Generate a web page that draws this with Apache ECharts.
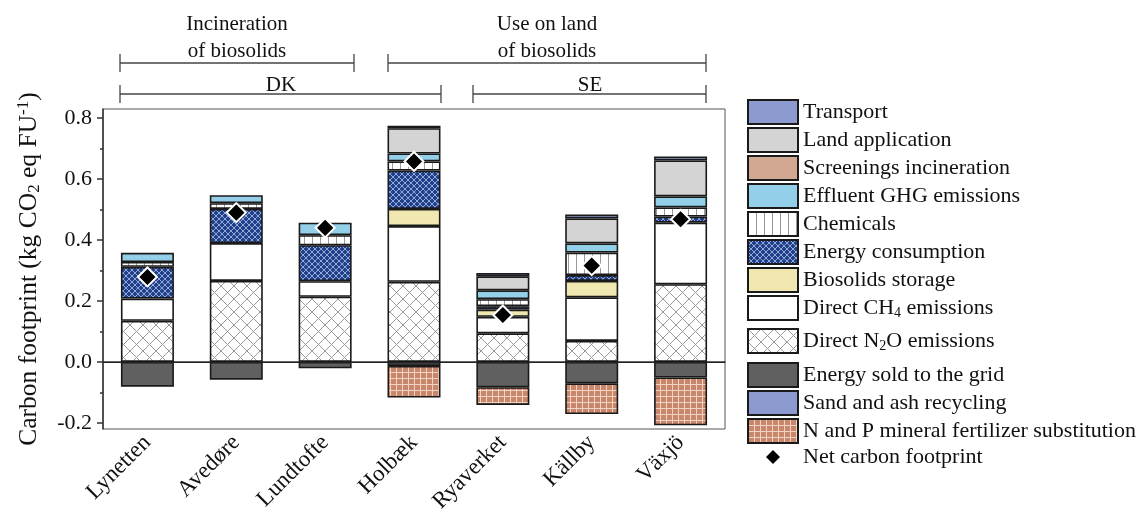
<!DOCTYPE html>
<html>
<head>
<meta charset="utf-8">
<script src="https://cdn.jsdelivr.net/npm/echarts@6/dist/echarts.min.js"></script>
<style>
  html, body { margin: 0; padding: 0; background: #fff; }
  #chart { width: 1148px; height: 527px; }
</style>
</head>
<body>
<div id="chart"></div>
<script>
const plants = ['Lynetten', 'Avedøre', 'Lundtofte', 'Holbæk', 'Ryaverket', 'Källby', 'Växjö']

// positive contributions, bottom of stack first
const directN2O = [0.135, 0.266, 0.214, 0.263, 0.094, 0.069, 0.255]
const directCH4 = [0.073, 0.124, 0.051, 0.183, 0.054, 0.143, 0.202]
const biosolidsStorage = [0, 0, 0, 0.056, 0.024, 0.054, 0]
const energyConsumption = [0.104, 0.112, 0.118, 0.126, 0.011, 0.019, 0.020]
const chemicals = [0.016, 0.019, 0.033, 0.030, 0.023, 0.074, 0.030]
const effluentGHG = [0.030, 0.026, 0.041, 0.026, 0.029, 0.030, 0.036]
const screeningsIncineration = [0, 0, 0, 0, 0, 0, 0]
const landApplication = [0, 0, 0, 0.083, 0.046, 0.082, 0.118]
const transport = [0, 0, 0, 0.008, 0.011, 0.013, 0.013]

// avoided burdens, nearest zero first
const energySold = [-0.081, -0.058, -0.021, -0.013, -0.083, -0.070, -0.051]
const sandAshRecycling = [0, 0, 0, 0, 0, 0, 0]
const fertilizerSubstitution = [0, 0, 0, -0.104, -0.058, -0.101, -0.157]

const netFootprint = [0.279, 0.490, 0.440, 0.658, 0.154, 0.316, 0.468]

const yLabels = [-0.2, 0, 0.2, 0.4, 0.6, 0.8]
const yMinorTicks = [-0.1, 0.1, 0.3, 0.5, 0.7]

const serif = 'Liberation Serif'

function tile(size, bg, fg, draw) {
  const c = document.createElement('canvas')
  c.width = c.height = size
  const g = c.getContext('2d')
  g.fillStyle = bg
  g.fillRect(0, 0, size, size)
  g.strokeStyle = fg
  g.lineWidth = 1
  g.beginPath()
  draw(g, size)
  g.stroke()
  return { image: c, repeat: 'repeat' }
}
const cross = (g, s) => { g.moveTo(0, 0); g.lineTo(s, s); g.moveTo(s, 0); g.lineTo(0, s) }

const fills = {
  n2o: tile(13, '#ffffff', '#9a9a9a', cross),
  energy: tile(6, '#21408a', '#95a8da', cross),
  chem: tile(8, '#ffffff', '#9a9a9a', (g, s) => { g.moveTo(0.5, 0); g.lineTo(0.5, s) }),
  fert: tile(6, '#c8876a', '#f0d3c4', (g, s) => { g.moveTo(0.5, 0); g.lineTo(0.5, s); g.moveTo(0, 0.5); g.lineTo(s, 0.5) }),
}

const nz = arr => arr.map(v => (v === 0 ? '-' : v))

function bar(name, data, color) {
  return {
    name,
    type: 'bar',
    stack: 'total',
    barWidth: 53,
    data: nz(data),
    itemStyle: { color, borderColor: '#1a1a1a', borderWidth: 1.6 },
    emphasis: { disabled: true },
  }
}

const series = [
  bar('Direct N2O emissions', directN2O, fills.n2o),
  bar('Direct CH4 emissions', directCH4, '#ffffff'),
  bar('Biosolids storage', biosolidsStorage, '#f0e8b0'),
  bar('Energy consumption', energyConsumption, fills.energy),
  bar('Chemicals', chemicals, fills.chem),
  bar('Effluent GHG emissions', effluentGHG, '#94cfe9'),
  bar('Screenings incineration', screeningsIncineration, '#d2a893'),
  bar('Land application', landApplication, '#d4d4d4'),
  bar('Transport', transport, '#8c9ad0'),
  bar('Energy sold to the grid', energySold, '#606060'),
  bar('Sand and ash recycling', sandAshRecycling, '#8c9ad0'),
  bar('N and P mineral fertilizer substitution', fertilizerSubstitution, fills.fert),
  {
    name: 'Net carbon footprint',
    type: 'scatter',
    data: netFootprint,
    symbol: 'diamond',
    symbolSize: 19,
    z: 5,
    itemStyle: { color: '#000', borderColor: '#fff', borderWidth: 2, opacity: 1 },
  },
]
series[0].markLine = {
  silent: true,
  symbol: ['none', 'none'],
  label: { show: false },
  lineStyle: { color: '#222', width: 1, type: 'solid' },
  data: [{ yAxis: 0 }],
}

const richText = {
  sub: { fontSize: 14, fontFamily: serif, color: '#111', padding: [11, 0, 0, 0] },
  sup: { fontSize: 14, fontFamily: serif, color: '#111', padding: [0, 0, 10, 0] },
}
function legendName(name) {
  return name.replace('CH4', 'CH{sub|4}').replace('N2O', 'N{sub|2}O')
}
const legendBase = {
  orient: 'vertical',
  left: 747,
  padding: 0,
  icon: 'rect',
  itemWidth: 50,
  itemHeight: 24,
  itemGap: 2,
  selectedMode: false,
  formatter: legendName,
  textStyle: { fontFamily: serif, fontSize: 22, color: '#111', lineHeight: 22, rich: richText },
}

const option = {
  animation: false,
  backgroundColor: '#fff',
  grid: { left: 103, right: 423, top: 109, bottom: 98, show: true, borderColor: '#555', borderWidth: 1 },
  legend: [
    { ...legendBase, top: 99, data: ['Transport', 'Land application', 'Screenings incineration', 'Effluent GHG emissions', 'Chemicals', 'Energy consumption', 'Biosolids storage', 'Direct CH4 emissions'] },
    { ...legendBase, top: 328, data: ['Direct N2O emissions'] },
    { ...legendBase, top: 362, data: ['Energy sold to the grid', 'Sand and ash recycling', 'N and P mineral fertilizer substitution'] },
    { ...legendBase, top: 446, left: 766, itemWidth: 14, itemHeight: 14, icon: 'diamond', itemStyle: { color: '#000', borderWidth: 0 }, textStyle: { ...legendBase.textStyle, padding: [0, 0, 0, 18] }, data: ['Net carbon footprint'] },
  ],
  xAxis: {
    type: 'category',
    data: plants,
    axisLine: { lineStyle: { color: '#333', width: 1.5 } },
    axisTick: { alignWithLabel: true, length: 9, lineStyle: { color: '#333', width: 1.5 } },
    axisLabel: { rotate: 45, margin: 10, fontFamily: serif, fontSize: 23, color: '#111' },
  },
  yAxis: [
    {
      type: 'value',
      min: -0.22,
      max: 0.83,
      name: 'Carbon footprint (kg CO{sub|2} eq FU{sup|-1})',
      nameLocation: 'middle',
      nameGap: 60,
      nameTextStyle: { fontFamily: serif, fontSize: 25.5, color: '#111', rich: { sub: { ...richText.sub, fontSize: 17 }, sup: { ...richText.sup, fontSize: 17 } } },
      splitLine: { show: false },
      axisLine: { show: true, lineStyle: { color: '#333', width: 1.5 } },
      axisTick: { show: true, length: 6, customValues: yLabels, lineStyle: { color: '#333', width: 1.5 } },
      axisLabel: { customValues: yLabels, margin: 11, fontFamily: serif, fontSize: 22, color: '#111', formatter: v => v.toFixed(1) },
    },
    {
      type: 'value',
      min: -0.22,
      max: 0.83,
      position: 'left',
      splitLine: { show: false },
      axisLine: { show: false },
      axisTick: { show: true, length: 3, customValues: yMinorTicks, lineStyle: { color: '#333', width: 1.5 } },
      axisLabel: { show: false },
    },
  ],
  series,
}

// bracket annotations above the plot
const ink = { stroke: '#444', lineWidth: 1.3 }
function bracket(x1, x2, y) {
  return [
    { type: 'line', shape: { x1, y1: y, x2, y2: y }, style: ink },
    { type: 'line', shape: { x1, y1: y - 9, x2: x1, y2: y + 9 }, style: ink },
    { type: 'line', shape: { x1: x2, y1: y - 9, x2, y2: y + 9 }, style: ink },
  ]
}
function label(text, x, y) {
  return { type: 'text', x, y, style: { text, fill: '#111', font: '21px "Liberation Serif"', align: 'center', verticalAlign: 'middle', lineHeight: 27 } }
}
option.graphic = [
  ...bracket(120, 354, 63),
  ...bracket(388, 706, 63),
  ...bracket(120, 441, 94),
  ...bracket(473, 706, 94),
  label('Incineration\nof biosolids', 237, 38),
  label('Use on land\nof biosolids', 547, 38),
  label('DK', 281, 85),
  label('SE', 590, 85),
]

const chart = echarts.init(document.getElementById('chart'))
chart.setOption(option)
</script>
</body>
</html>
